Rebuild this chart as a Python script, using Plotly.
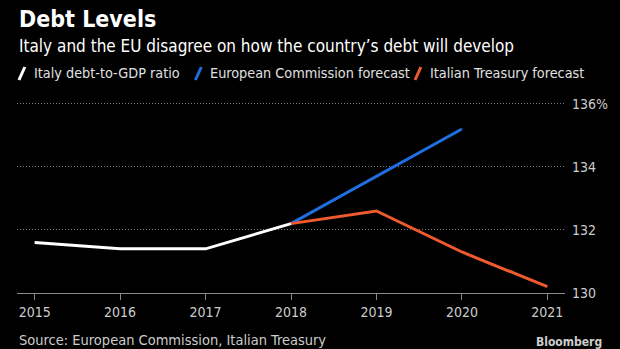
import plotly.graph_objects as go

years_hist = [2015, 2016, 2017, 2018]
italy_debt = [131.6, 131.4, 131.4, 132.2]
years_ec = [2018, 2019, 2020]
ec_forecast = [132.2, 133.7, 135.2]
years_it = [2018, 2019, 2020, 2021]
it_forecast = [132.2, 132.6, 131.3, 130.2]
y_ticks = [130, 132, 134, 136]
y_tick_labels = ["130", "132", "134", "136%"]
x_ticks = [2015, 2016, 2017, 2018, 2019, 2020, 2021]

FONT = "Liberation Sans Narrow, DejaVu Sans Condensed, Arial Narrow, sans-serif"
W, H = 620, 349
L, R, T, B = 17, 44, 100, 56
PW, PH = W - L - R, H - T - B

def px(x):
    return (x - L) / PW

def py(y):
    return (H - B - y) / PH

fig = go.Figure()
fig.add_trace(go.Scatter(x=years_ec, y=ec_forecast, mode="lines",
                         line=dict(color="#1f6fe0", width=3), name="European Commission forecast"))
fig.add_trace(go.Scatter(x=years_it, y=it_forecast, mode="lines",
                         line=dict(color="#ef5a2e", width=3), name="Italian Treasury forecast"))
fig.add_trace(go.Scatter(x=years_hist, y=italy_debt, mode="lines",
                         line=dict(color="#ffffff", width=3), name="Italy debt-to-GDP ratio"))

x0 = 2015 - 18 / 87.17
x1 = 2021 + 18 / 87.17

fig.update_layout(
    width=W, height=H,
    margin=dict(l=L, r=R, t=T, b=B),
    paper_bgcolor="#000000", plot_bgcolor="#000000",
    showlegend=False,
    font=dict(family=FONT, color="#cccccc", size=14),
    xaxis=dict(range=[x0, x1], tickvals=x_ticks, ticktext=[str(v) for v in x_ticks],
               showgrid=False, zeroline=False, showline=True, linecolor="#8a8a8a", linewidth=1,
               ticks="outside", ticklen=6, tickcolor="#8a8a8a", tickfont=dict(size=14, color="#cccccc", family=FONT)),
    yaxis=dict(range=[130, 136.12], side="right", tickvals=y_ticks, ticktext=y_tick_labels,
               showgrid=True, gridcolor="#777777", griddash="1px,2px", gridwidth=1, zeroline=False,
               ticks="", ticklabelstandoff=6, tickfont=dict(size=14, color="#cccccc", family=FONT)),
)

annotations = [
    dict(text="<b>Debt Levels</b>", x=px(17), y=py(19), xanchor="left", yanchor="middle",
         font=dict(size=23, color="#ffffff", family="DejaVu Sans Condensed, " + FONT)),
    dict(text="Italy and the EU disagree on how the country’s debt will develop", x=px(17), y=py(46),
         xanchor="left", yanchor="middle", font=dict(size=17, color="#ffffff", family=FONT)),
    dict(text="Source: European Commission, Italian Treasury", x=px(17), y=py(340),
         xanchor="left", yanchor="middle", font=dict(size=14.5, color="#cccccc", family=FONT)),
    dict(text="<b>Bloomberg</b>", x=px(616), y=py(342), xanchor="right", yanchor="middle",
         font=dict(size=12, color="#cccccc", family=FONT)),
]
legend_items = [
    (17, "#ffffff", "Italy debt-to-GDP ratio"),
    (197, "#1f6fe0", "European Commission forecast"),
    (421, "#ef5a2e", "Italian Treasury forecast"),
]
shapes = []
for xs, col, label in legend_items:
    shapes.append(dict(type="line", xref="paper", yref="paper",
                       x0=px(xs + 2), y0=py(80), x1=px(xs + 8), y1=py(67),
                       line=dict(color=col, width=3)))
    annotations.append(dict(text=label, x=px(xs + 15), y=py(73), xanchor="left", yanchor="middle",
                            font=dict(size=14.3, color="#e0e0e0", family=FONT)))
for a in annotations:
    a.update(xref="paper", yref="paper", showarrow=False)
fig.update_layout(annotations=annotations, shapes=shapes)

fig.write_html("out.html")
